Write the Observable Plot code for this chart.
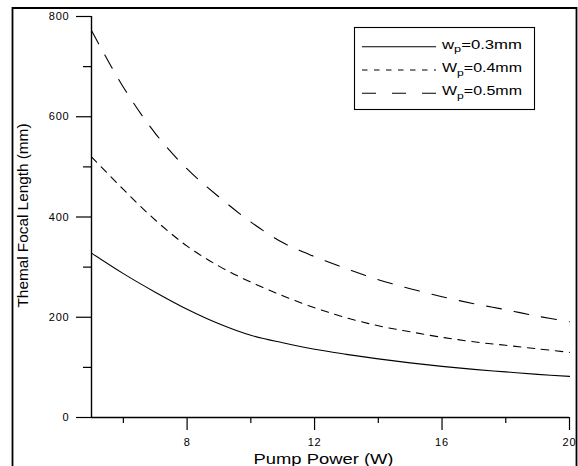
<!DOCTYPE html>
<html><head><meta charset="utf-8">
<script src="https://cdn.jsdelivr.net/npm/d3@7"></script>
<script src="https://cdn.jsdelivr.net/npm/@observablehq/plot@0.6"></script>
<style>
body{margin:0;background:#fff}
</style>
</head><body><div id="chart"></div>
<script>
// Data
const power = [5, 6, 7, 8, 9, 10, 11, 12, 13, 14, 15, 16, 17, 18, 19, 20];
const focal03 = [328, 287, 250, 216, 187, 164, 149, 136, 126, 117, 109, 102, 96, 91, 86, 82];
const focal04 = [520, 455, 394, 342, 302, 270, 243, 219, 199, 183, 171, 160, 151, 144, 137, 130];
const focal05 = [772, 659, 567, 496, 440, 390, 349, 321, 297, 275, 257, 241, 227, 215, 202, 191];
const legendMain = ["w", "W", "W"];
const legendSub = ["p", "p", "p"];
const legendRest = ["=0.3mm", "=0.4mm", "=0.5mm"];
const dashes = [null, "7.5,6.5", "15,13"];
const legendDashes = [null, "5.5,6.5", "14,16"];
const xMajorTicks = [8, 12, 16, 20];
const xMinorTicks = [6, 10, 14, 18];
const yMajorTicks = [0, 200, 400, 600, 800];
const yMinorTicks = [100, 300, 500, 700];
const xLabel = "Pump Power (W)";
const yLabel = "Themal Focal Length (mm)";

const series = [focal03, focal04, focal05];

const chart = Plot.plot({
  width: 578,
  height: 466,
  marginLeft: 91,
  marginRight: 9,
  marginTop: 16,
  marginBottom: 49,
  x: {domain: [5, 20]},
  y: {domain: [0, 800]},
  style: {fontFamily: "'Liberation Sans', Arial, sans-serif", fontSize: "11px", color: "#000", background: "#fff", letterSpacing: "0.8px"},
  marks: [
    Plot.axisY(yMajorTicks, {tickSize: 15, tickPadding: 7, label: null, strokeWidth: 1.2}),
    Plot.axisY(yMinorTicks, {tickSize: 8, tickFormat: () => "", label: null, strokeWidth: 1.2}),
    Plot.axisX(xMajorTicks, {tickSize: 13, tickPadding: 8, label: null, strokeWidth: 1.2}),
    Plot.axisX(xMinorTicks, {tickSize: 6, tickFormat: () => "", label: null, strokeWidth: 1.2}),
    Plot.ruleX([5], {y1: 0, y2: 800, stroke: "#000", strokeWidth: 1.4}),
    Plot.ruleY([0], {x1: 5, x2: 20, stroke: "#000", strokeWidth: 1.4}),
    ...series.map((vals, k) => Plot.line(power, {
      x: d => d,
      y: (d, i) => vals[i],
      curve: "catmull-rom",
      stroke: "#000",
      strokeWidth: 1.1,
      strokeDasharray: dashes[k] || undefined
    })),
    Plot.text([xLabel], {text: d => d, frameAnchor: "bottom", lineAnchor: "middle", textAnchor: "middle", dy: 42, dx: -7, fontSize: 15}),
    Plot.text([yLabel], {text: d => d, frameAnchor: "left", lineAnchor: "middle", textAnchor: "middle", rotate: -90, dx: -68, dy: -1.5, fontSize: 15})
  ]
});

document.getElementById("chart").appendChild(chart);

const svg = d3.select(chart);
// stretch axis titles like the reference
svg.selectAll("text").each(function() {
  const t = this.textContent;
  if (t === xLabel) d3.select(this).attr("textLength", 140).attr("lengthAdjust", "spacingAndGlyphs").style("letter-spacing", "0px");
  if (t === yLabel) d3.select(this).attr("textLength", 184).attr("lengthAdjust", "spacingAndGlyphs").style("letter-spacing", "0px");
});

// outer border of the figure (left, top, right edges)
svg.append("path")
  .attr("d", "M12.5,470V8H576.5V470")
  .attr("fill", "none").attr("stroke", "#000").attr("stroke-width", 1.8);

// legend
const lg = svg.append("g").attr("text-anchor", "start");
lg.append("rect").attr("x", 354.5).attr("y", 27.5).attr("width", 180).attr("height", 82)
  .attr("fill", "#fff").attr("stroke", "#000").attr("stroke-width", 1.1);
legendMain.forEach((m, i) => {
  const y = 46.7 + i * 23.3;
  const ln = lg.append("line").attr("x1", 362).attr("x2", 436).attr("y1", y).attr("y2", y)
    .attr("stroke", "#000").attr("stroke-width", 1.1);
  if (legendDashes[i]) ln.attr("stroke-dasharray", legendDashes[i]);
  const t = lg.append("text").attr("x", 442).attr("y", y + 2).attr("font-size", 12.5)
    .attr("text-anchor", "start").style("letter-spacing", "0px");
  t.append("tspan").text(m);
  t.append("tspan").attr("font-size", 9.5).attr("dy", 3.5).text(legendSub[i]);
  t.append("tspan").attr("dy", -3.5).text(legendRest[i]);
  t.attr("textLength", 80).attr("lengthAdjust", "spacingAndGlyphs");
});
</script>
</body></html>
